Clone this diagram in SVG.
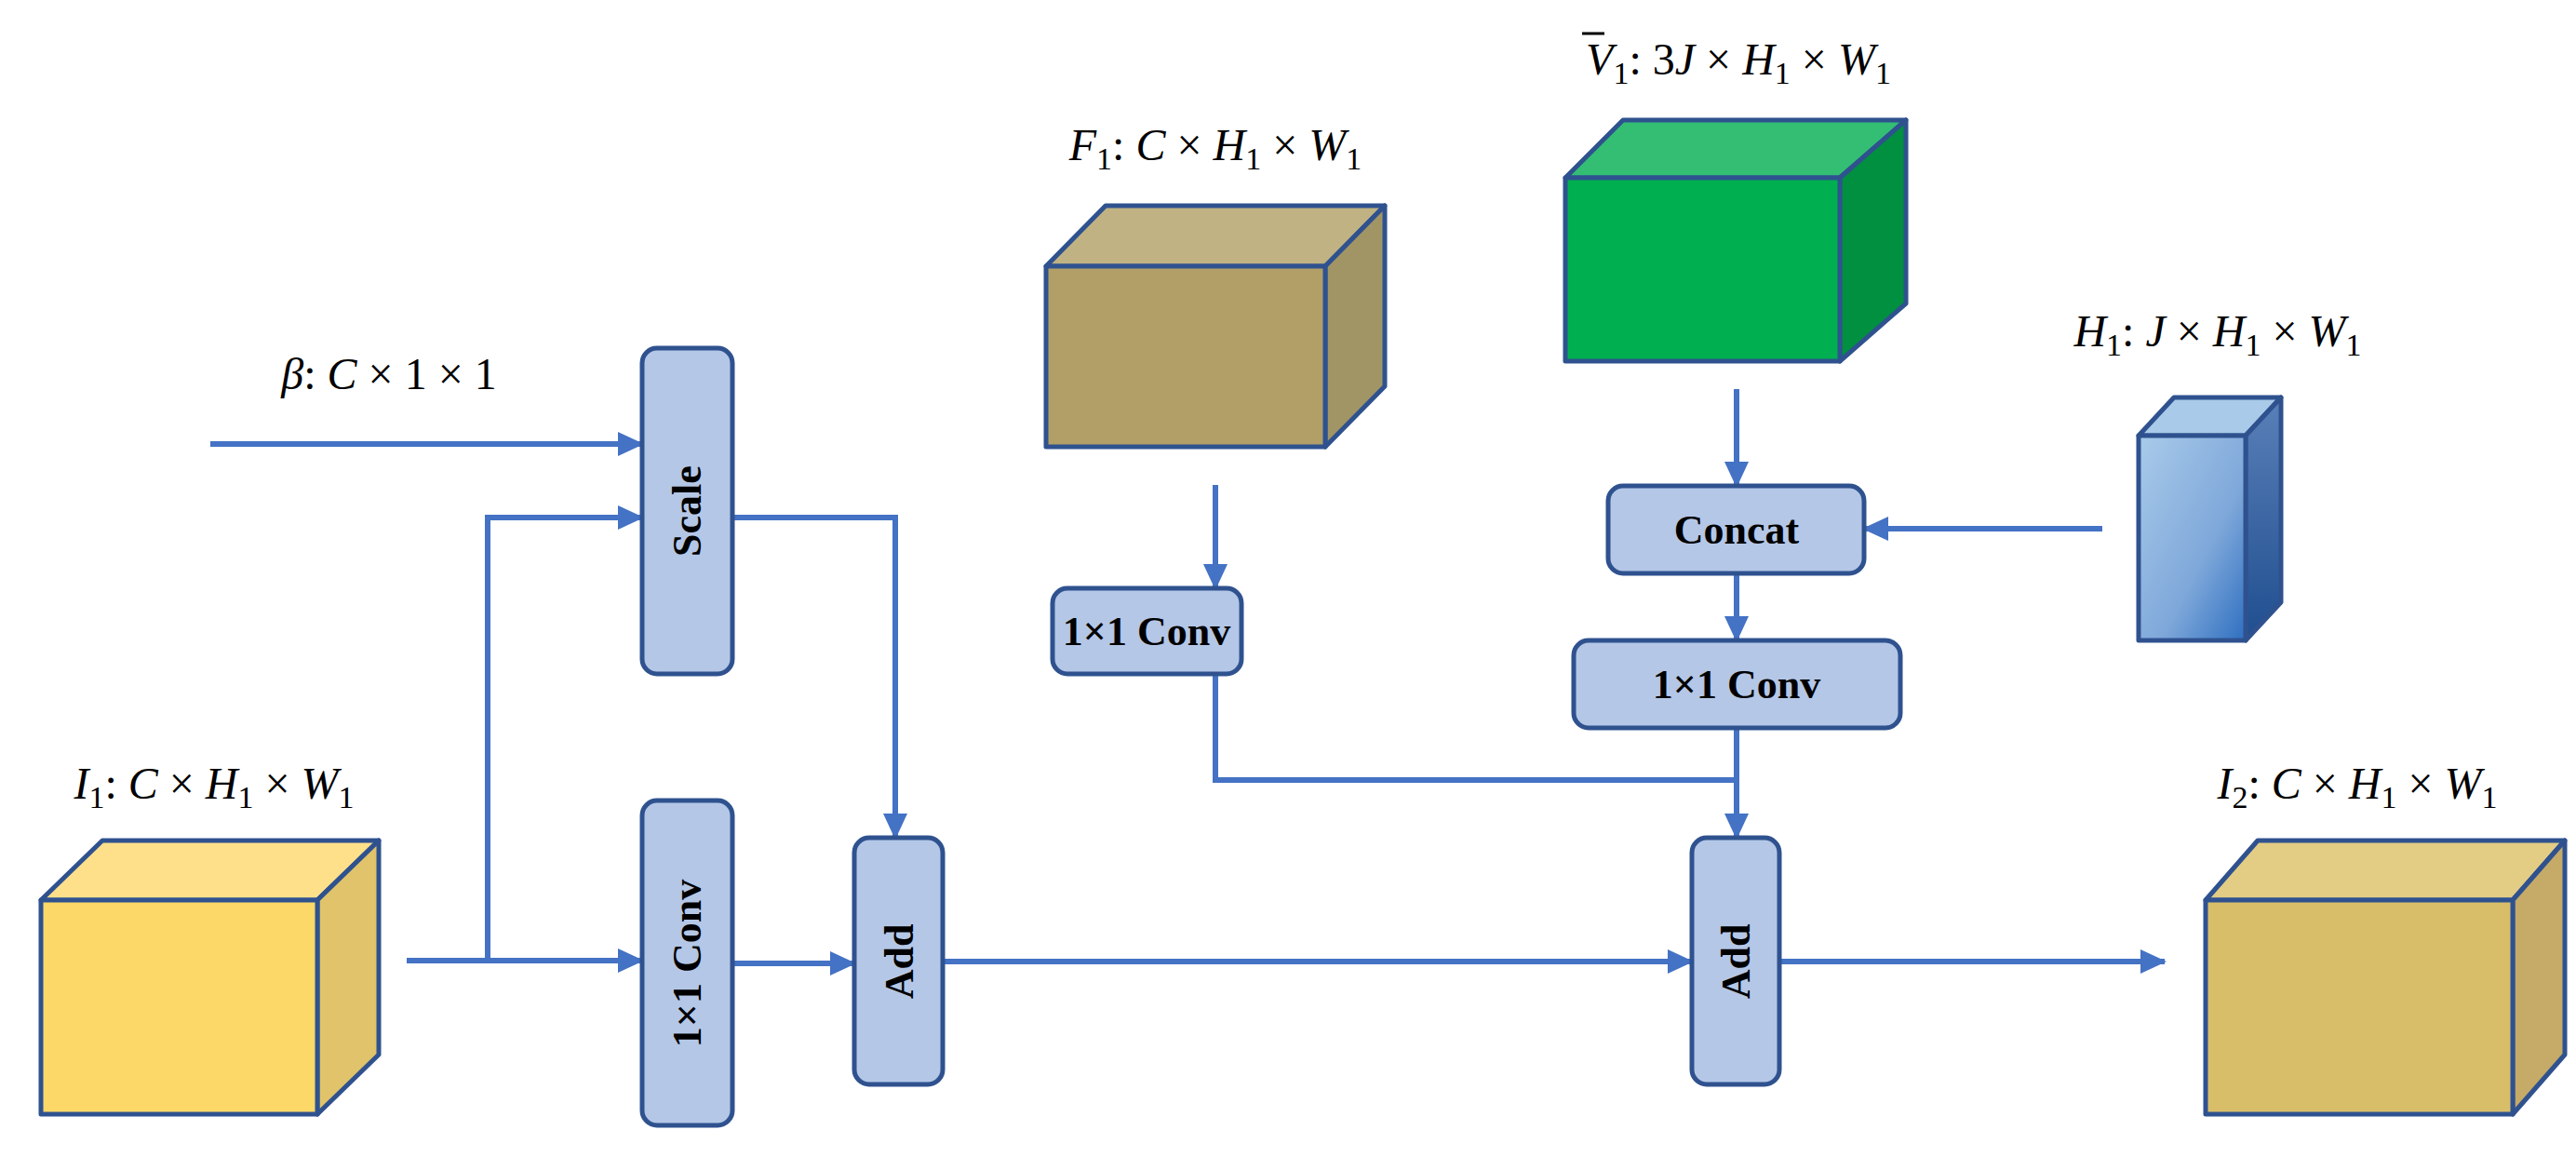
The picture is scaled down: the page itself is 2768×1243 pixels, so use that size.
<svg xmlns="http://www.w3.org/2000/svg" width="2768" height="1243" viewBox="0 0 2768 1243">
<style>
.ln{fill:none;stroke:#4472C4;stroke-width:6}
.ar{marker-end:url(#ah)}
.box{fill:#B4C7E7;stroke:#2F528F;stroke-width:5}
.cb{stroke:#2F528F;stroke-width:5;stroke-linejoin:round}
.bt{font-family:"Liberation Serif",serif;font-weight:bold;font-size:44px;fill:#000;text-anchor:middle}
.mt{font-family:"Liberation Serif",serif;font-style:italic;font-size:48px;fill:#000;text-anchor:middle}
.up{font-style:normal}
</style>
<defs>
<marker id="ah" markerUnits="userSpaceOnUse" markerWidth="28" markerHeight="26" refX="26" refY="13" orient="auto">
<path d="M0,0 L28,13 L0,26 z" fill="#4472C4"/>
</marker>
<linearGradient id="hf" x1="0" y1="0" x2="1" y2="1"><stop offset="0" stop-color="#A9CBEA"/><stop offset="0.6" stop-color="#7FA8DA"/><stop offset="1" stop-color="#2E6FC0"/></linearGradient>
<linearGradient id="hs" x1="0" y1="0" x2="0" y2="1"><stop offset="0" stop-color="#5A80B8"/><stop offset="1" stop-color="#1F4E8F"/></linearGradient>
</defs>

<g id="connectors">
<path class="ln ar" d="M226,477 H690"/>
<path class="ln ar" d="M524,1032 V556 H690"/>
<path class="ln ar" d="M437,1032 H690"/>
<path class="ln ar" d="M787,1035 H918"/>
<path class="ln ar" d="M787,556 H962 V900"/>
<path class="ln ar" d="M1013,1033 H1818"/>
<path class="ln ar" d="M1912,1033 H2326"/>
<path class="ln ar" d="M1306,521 V632"/>
<path class="ln" d="M1306,724 V838 H1866"/>
<path class="ln ar" d="M1866,782 V900"/>
<path class="ln ar" d="M1866,418 V522"/>
<path class="ln ar" d="M1866,616 V688"/>
<path class="ln ar" d="M2259,568 H2003"/>
</g>

<g id="I1">
<polygon class="cb" points="44,967 110,903 407,903 341,967" fill="#FFE08A"/>
<polygon class="cb" points="341,967 407,903 407,1133 341,1197" fill="#E0C36A"/>
<rect class="cb" x="44" y="967" width="297" height="230" fill="#FCD868"/>
<text class="mt" x="230" y="858">I<tspan class="up" font-size="34" dy="10">1</tspan><tspan class="up" dy="-10">: </tspan>C <tspan class="up">×</tspan> H<tspan class="up" font-size="34" dy="10">1</tspan><tspan class="up" dy="-10"> × </tspan>W<tspan class="up" font-size="34" dy="10">1</tspan></text>
</g>

<g id="beta">
<text class="mt" x="418" y="418">β<tspan class="up">: </tspan>C <tspan class="up">× 1 × 1</tspan></text>
</g>

<g id="scale">
<rect class="box" x="690" y="374" width="97" height="350" rx="16"/>
<text class="bt" transform="translate(753,549) rotate(-90)">Scale</text>
</g>

<g id="conv1">
<rect class="box" x="690" y="860" width="97" height="349" rx="16"/>
<text class="bt" transform="translate(753,1035) rotate(-90)">1×1 Conv</text>
</g>

<g id="add1">
<rect class="box" x="918" y="900" width="95" height="265" rx="16"/>
<text class="bt" transform="translate(981,1033) rotate(-90)">Add</text>
</g>

<g id="add2">
<rect class="box" x="1818" y="900" width="94" height="265" rx="16"/>
<text class="bt" transform="translate(1880,1033) rotate(-90)">Add</text>
</g>

<g id="F1">
<polygon class="cb" points="1124,286 1188,221 1488,221 1424,286" fill="#C0B283"/>
<polygon class="cb" points="1424,286 1488,221 1488,415 1424,480" fill="#A29565"/>
<rect class="cb" x="1124" y="286" width="300" height="194" fill="#B19F67"/>
<text class="mt" x="1306" y="172">F<tspan class="up" font-size="34" dy="10">1</tspan><tspan class="up" dy="-10">: </tspan>C <tspan class="up">×</tspan> H<tspan class="up" font-size="34" dy="10">1</tspan><tspan class="up" dy="-10"> × </tspan>W<tspan class="up" font-size="34" dy="10">1</tspan></text>
</g>

<g id="conv2">
<rect class="box" x="1131" y="632" width="203" height="92" rx="16"/>
<text class="bt" x="1232" y="693">1×1 Conv</text>
</g>

<g id="V1">
<polygon class="cb" points="1682,191 1744,129 2048,129 1977,191" fill="#33BE74"/>
<polygon class="cb" points="1977,191 2048,129 2048,326 1977,388" fill="#009040"/>
<rect class="cb" x="1682" y="191" width="295" height="197" fill="#00B050"/>
<text class="mt" x="1868" y="80">V<tspan class="up" font-size="34" dy="10">1</tspan><tspan class="up" dy="-10">: 3</tspan>J <tspan class="up">×</tspan> H<tspan class="up" font-size="34" dy="10">1</tspan><tspan class="up" dy="-10"> × </tspan>W<tspan class="up" font-size="34" dy="10">1</tspan></text>
<line x1="1700" y1="36" x2="1724" y2="36" stroke="#000" stroke-width="3"/>
</g>

<g id="concat">
<rect class="box" x="1728" y="522" width="275" height="94" rx="16"/>
<text class="bt" x="1866" y="584">Concat</text>
</g>

<g id="conv3">
<rect class="box" x="1691" y="688" width="351" height="94" rx="16"/>
<text class="bt" x="1866" y="750">1×1 Conv</text>
</g>

<g id="H1">
<polygon class="cb" points="2298,468 2336,427 2451,427 2413,468" fill="#A9CAE8"/>
<polygon class="cb" points="2413,468 2451,427 2451,647 2413,688" fill="url(#hs)"/>
<rect class="cb" x="2298" y="468" width="115" height="220" fill="url(#hf)"/>
<text class="mt" x="2383" y="372">H<tspan class="up" font-size="34" dy="10">1</tspan><tspan class="up" dy="-10">: </tspan>J <tspan class="up">×</tspan> H<tspan class="up" font-size="34" dy="10">1</tspan><tspan class="up" dy="-10"> × </tspan>W<tspan class="up" font-size="34" dy="10">1</tspan></text>
</g>

<g id="I2">
<polygon class="cb" points="2370,967 2426,903 2756,903 2700,967" fill="#E3CD85"/>
<polygon class="cb" points="2700,967 2756,903 2756,1133 2700,1197" fill="#C5AB67"/>
<rect class="cb" x="2370" y="967" width="330" height="230" fill="#D9BE6A"/>
<text class="mt" x="2533" y="858">I<tspan class="up" font-size="34" dy="10">2</tspan><tspan class="up" dy="-10">: </tspan>C <tspan class="up">×</tspan> H<tspan class="up" font-size="34" dy="10">1</tspan><tspan class="up" dy="-10"> × </tspan>W<tspan class="up" font-size="34" dy="10">1</tspan></text>
</g>
</svg>
